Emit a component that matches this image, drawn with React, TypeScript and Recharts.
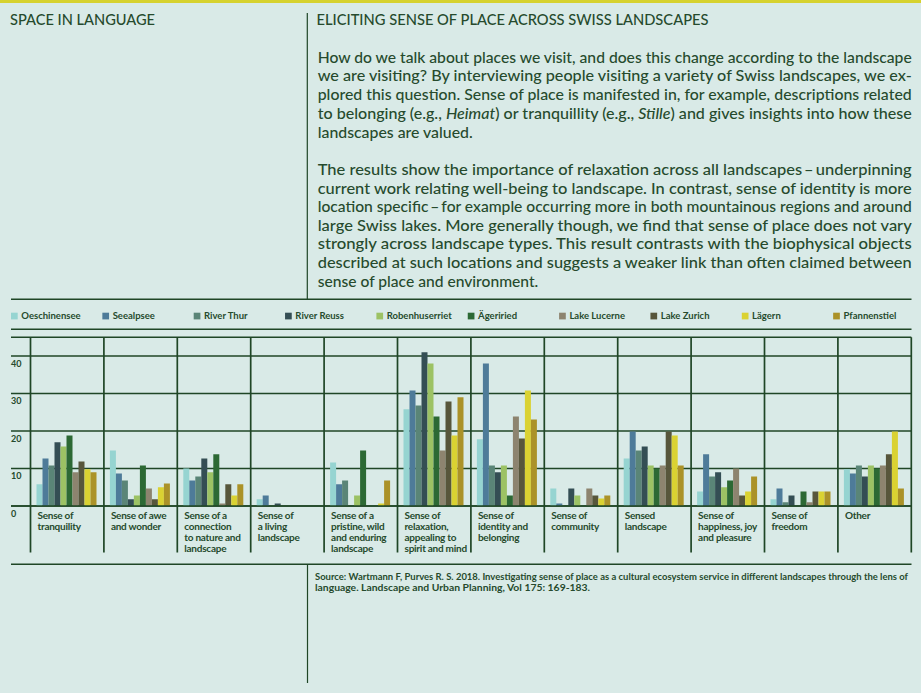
import React from "react";
import { BarChart, Bar, XAxis, YAxis, CartesianGrid } from "recharts";

// ---------- DATA ----------
const categories = [
  "Sense of tranquility",
  "Sense of awe and wonder",
  "Sense of a connection to nature and landscape",
  "Sense of a living landscape",
  "Sense of a pristine, wild and enduring landscape",
  "Sense of relaxation, appealing to spirit and mind",
  "Sense of identity and belonging",
  "Sense of community",
  "Sensed landscape",
  "Sense of happiness, joy and pleasure",
  "Sense of freedom",
  "Other",
];

const categoryLabelLines = [
  ["Sense of", "tranquility"],
  ["Sense of awe", "and wonder"],
  ["Sense of a", "connection", "to nature and", "landscape"],
  ["Sense of", "a living", "landscape"],
  ["Sense of a", "pristine, wild", "and enduring", "landscape"],
  ["Sense of", "relaxation,", "appealing to", "spirit and mind"],
  ["Sense of", "identity and", "belonging"],
  ["Sense of", "community"],
  ["Sensed", "landscape"],
  ["Sense of", "happiness, joy", "and pleasure"],
  ["Sense of", "freedom"],
  ["Other"],
];

const seriesNames = [
  "Oeschinensee",
  "Seealpsee",
  "River Thur",
  "River Reuss",
  "Robenhuserriet",
  "Ägeriried",
  "Lake Lucerne",
  "Lake Zurich",
  "Lägern",
  "Pfannenstiel",
];

const seriesColors = [
  "#96d4d1",
  "#4e7b99",
  "#5a8577",
  "#344e54",
  "#9cc264",
  "#2c6934",
  "#8d846f",
  "#57563b",
  "#dad232",
  "#ab9228",
];

const oeschinensee = [5.8, 14.8, 10.0, 1.8, 11.6, 25.8, 17.8, 4.7, 12.7, 3.9, 1.8, 9.8];
const seealpsee = [12.7, 8.7, 6.8, 2.8, 5.8, 30.8, 38.0, 0.7, 19.9, 13.8, 4.7, 8.7];
const riverThur = [10.8, 6.8, 7.9, 0, 6.8, 26.8, 10.8, 0, 14.8, 7.9, 1.0, 10.8];
const riverReuss = [17.0, 1.8, 12.7, 0.7, 0, 41.0, 9.0, 4.7, 15.9, 9.0, 2.8, 7.9];
const robenhuserriet = [15.9, 2.8, 9.0, 0, 2.8, 38.0, 10.8, 2.8, 10.8, 5.0, 0, 10.8];
const aegeriried = [18.8, 10.8, 13.8, 0, 14.8, 23.9, 2.8, 0, 10.0, 6.8, 3.9, 10.0];
const lakeLucerne = [9.0, 4.7, 0.7, 0, 0, 14.8, 23.9, 4.7, 10.8, 10.0, 1.0, 10.8];
const lakeZurich = [11.9, 1.8, 5.8, 0, 0, 27.9, 18.0, 2.8, 19.9, 2.8, 3.9, 13.8];
const laegern = [9.8, 5.0, 2.8, 0, 0.7, 18.8, 30.8, 2.0, 18.8, 3.9, 3.9, 19.9];
const pfannenstiel = [9.0, 6.0, 5.8, 0, 6.8, 29.0, 23.1, 2.8, 10.8, 7.9, 3.9, 4.7];

const seriesValues = [
  oeschinensee,
  seealpsee,
  riverThur,
  riverReuss,
  robenhuserriet,
  aegeriried,
  lakeLucerne,
  lakeZurich,
  laegern,
  pfannenstiel,
];

const yTicks = [0, 10, 20, 30, 40];
const yDomainMax = 45;

const paragraph1 = [
  ["How do we talk about places we visit, and does this change according to the landscape"],
  ["we are visiting? By interviewing people visiting a variety of Swiss landscapes, we ex-"],
  ["plored this question. Sense of place is manifested in, for example, descriptions related"],
  ["to belonging (e.g., ", "*Heimat", ") or tranquillity (e.g., ", "*Stille", ") and gives insights into how these"],
  ["landscapes are valued."],
];
const paragraph2 = [
  ["The results show the importance of relaxation across all landscapes\u2009\u2013\u2009underpinning"],
  ["current work relating well-being to landscape. In contrast, sense of identity is more"],
  ["location specific\u2009\u2013\u2009for example occurring more in both mountainous regions and around"],
  ["large Swiss lakes. More generally though, we find that sense of place does not vary"],
  ["strongly across landscape types. This result contrasts with the biophysical objects"],
  ["described at such locations and suggests a weaker link than often claimed between"],
  ["sense of place and environment."],
];
const sourceLines = [
  "Source: Wartmann F, Purves R. S. 2018. Investigating sense of place as a cultural ecosystem service in different landscapes through the lens of",
  "language. Landscape and Urban Planning, Vol 175: 169-183.",
];

const chartData = categories.map((c, i) => {
  const row: Record<string, string | number> = { category: c };
  seriesValues.forEach((vals, s) => {
    row["s" + s] = vals[i];
  });
  return row;
});

// ---------- LAYOUT ----------
const W = 921;
const H = 693;
const BG = "#d9eae7";
const INK = "#264a2d";
const LINE = "#1f4626";
const FONT = "Lato, 'Noto Sans', sans-serif";

const PLOT_LEFT = 11;
const PLOT_RIGHT = 911.3;
const PLOT_TOP = 337.25;
const PLOT_BOTTOM = 506;
const AXIS_H = 46.5;
const PAD_LEFT = 19.5;
const BAND = (PLOT_RIGHT - PLOT_LEFT - PAD_LEFT) / categories.length;

const TEXT_LEFT = 317.7;
const TEXT_RIGHT = 911.7;

const XTick = (props: any) => {
  const { x, payload } = props;
  const idx = categories.indexOf(payload.value);
  const half = BAND / 2;
  const left = x - half;
  const lines = categoryLabelLines[idx] || [];
  return (
    <g>
      <line x1={left} x2={left} y1={PLOT_TOP} y2={PLOT_BOTTOM + AXIS_H} stroke={LINE} strokeWidth={1.7} />
      {idx === categories.length - 1 && (
        <line x1={x + half} x2={x + half} y1={PLOT_TOP} y2={PLOT_BOTTOM + AXIS_H} stroke={LINE} strokeWidth={1.7} />
      )}
      <text
        x={left + 7}
        y={PLOT_BOTTOM + 12.5}
        fill={INK}
        fontFamily={FONT}
        fontWeight={700}
        fontSize={10}
        letterSpacing={-0.25}
      >
        {lines.map((l, k) => (
          <tspan key={k} x={left + 7} dy={k === 0 ? 0 : 11.1}>
            {l}
          </tspan>
        ))}
      </text>
    </g>
  );
};

const YTick = (props: any) => {
  const { y, payload } = props;
  return (
    <text x={PLOT_LEFT} y={y + 10.5} fill={INK} fontFamily={FONT} fontWeight={700} fontSize={9}>
      {payload.value}
    </text>
  );
};

const renderParaLine = (parts: string[], y: number, justified: boolean, width: number, key: string) => (
  <text
    key={key}
    x={TEXT_LEFT}
    y={y}
    fill={INK}
    fontFamily={FONT}
    fontSize={15.5}
    fontWeight={500}
    textLength={justified ? TEXT_RIGHT - TEXT_LEFT : width}
    lengthAdjust="spacingAndGlyphs"
  >
    {parts.map((p, i) =>
      p.startsWith("*") ? (
        <tspan key={i} fontStyle="italic">
          {p.slice(1)}
        </tspan>
      ) : (
        <tspan key={i}>{p}</tspan>
      )
    )}
  </text>
);

export default function App() {
  return (
    <div
      style={{
        position: "absolute",
        left: 0,
        top: 0,
        width: W,
        height: H,
        background: BG,
        overflow: "hidden",
      }}
    >
      <svg width={W} height={H} style={{ position: "absolute", left: 0, top: 0 }}>
        <rect x={0} y={0} width={W} height={3} fill="#d6d22f" />
        <text x={10} y={25} fill={INK} fontFamily={FONT} fontSize={14.5} fontWeight={500} textLength={145} lengthAdjust="spacingAndGlyphs">
          SPACE IN LANGUAGE
        </text>
        <line x1={307.3} x2={307.3} y1={13} y2={299} stroke={LINE} strokeWidth={1.2} />
        <text x={316.5} y={25} fill={INK} fontFamily={FONT} fontSize={14.5} fontWeight={500} textLength={392} lengthAdjust="spacingAndGlyphs">
          ELICITING SENSE OF PLACE ACROSS SWISS LANDSCAPES
        </text>
        {paragraph1.map((parts, i) =>
          renderParaLine(parts, 62.7 + i * 18.7, i < paragraph1.length - 1, 155, "p1" + i)
        )}
        {paragraph2.map((parts, i) =>
          renderParaLine(parts, 175 + i * 18.6, i < paragraph2.length - 1, 220.6, "p2" + i)
        )}
        <line x1={11} x2={911.5} y1={299.2} y2={299.2} stroke={LINE} strokeWidth={1.4} />
        {seriesNames.map((n, i) => {
          const lx = 11 + i * 91.35;
          return (
            <g key={n}>
              <rect x={lx} y={312.7} width={6.7} height={6.7} fill={seriesColors[i]} />
              <text x={lx + 10.3} y={319.4} fill={INK} fontFamily={FONT} fontWeight={700} fontSize={9.5}>
                {n}
              </text>
            </g>
          );
        })}
        <line x1={11} x2={911.5} y1={329.3} y2={329.3} stroke={LINE} strokeWidth={1.4} />
        <line x1={11} x2={911.5} y1={564.3} y2={564.3} stroke={LINE} strokeWidth={1.4} />
        <line x1={307.5} x2={307.5} y1={564.3} y2={683} stroke={LINE} strokeWidth={1.2} />
        <text x={315} y={579.5} fill={INK} fontFamily={FONT} fontWeight={700} fontSize={9} textLength={593} lengthAdjust="spacingAndGlyphs">
          {sourceLines[0]}
        </text>
        <text x={315} y={590.5} fill={INK} fontFamily={FONT} fontWeight={700} fontSize={9} textLength={275} lengthAdjust="spacingAndGlyphs">
          {sourceLines[1]}
        </text>
      </svg>
      <div style={{ position: "absolute", left: 0, top: 0 }}>
        <BarChart
          width={W}
          height={H}
          data={chartData}
          margin={{ top: PLOT_TOP, left: 0, right: W - PLOT_RIGHT, bottom: H - PLOT_BOTTOM - AXIS_H }}
          barCategoryGap={6}
          barGap={0}
        >
          <CartesianGrid vertical={false} stroke={LINE} strokeWidth={1.7} />
          <XAxis
            dataKey="category"
            interval={0}
            height={AXIS_H}
            padding={{ left: PAD_LEFT, right: 0 }}
            tick={<XTick />}
            tickLine={false}
            axisLine={{ stroke: LINE, strokeWidth: 1.7 }}
          />
          <YAxis
            width={PLOT_LEFT}
            domain={[0, yDomainMax]}
            ticks={yTicks}
            interval={0}
            tick={<YTick />}
            tickLine={false}
            axisLine={false}
            allowDataOverflow
          />
          {seriesNames.map((n, i) => (
            <Bar key={n} dataKey={"s" + i} name={n} fill={seriesColors[i]} isAnimationActive={false} />
          ))}
        </BarChart>
      </div>
    </div>
  );
}
